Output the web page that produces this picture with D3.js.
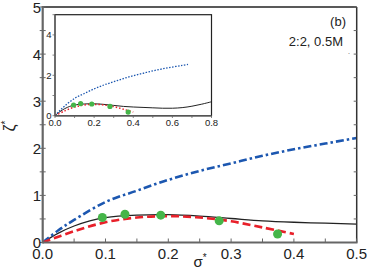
<!DOCTYPE html>
<html><head><meta charset="utf-8">
<script src="https://cdn.jsdelivr.net/npm/d3@7"></script>
<style>body{margin:0;background:#fff}svg{display:block}</style>
</head><body>
<svg id="c" width="367" height="269"></svg>
<script>
// ---- data ----
const sigmaBlack = [0,0.025,0.05,0.075,0.1,0.15,0.2,0.25,0.3,0.35,0.4,0.45,0.5,0.55,0.6,0.65,0.7,0.75,0.8];
const zetaBlack  = [0,0.2,0.35,0.46,0.53,0.58,0.59,0.56,0.51,0.46,0.43,0.41,0.39,0.37,0.37,0.40,0.47,0.57,0.69];
const sigmaBlue  = [0,0.025,0.05,0.1,0.15,0.2,0.25,0.3,0.35,0.4,0.45,0.5,0.55,0.6,0.65,0.68];
const zetaBlue   = [0,0.26,0.48,0.86,1.1,1.33,1.52,1.68,1.84,1.98,2.1,2.22,2.32,2.41,2.49,2.54];
const sigmaRed   = [0,0.05,0.1,0.15,0.2,0.25,0.3,0.35,0.4];
const zetaRed    = [0,0.24,0.43,0.53,0.56,0.53,0.45,0.32,0.18];
const sigmaPts   = [0.095,0.131,0.188,0.281,0.374];
const zetaPts    = [0.53,0.60,0.58,0.46,0.18];
const mainXTicks = [0,0.1,0.2,0.3,0.4,0.5];
const mainYTicks = [0,1,2,3,4,5];
const insetXTicks = [0,0.2,0.4,0.6,0.8];
const insetYTicks = [0,2,4];

const FONT = "Liberation Sans, Arial, sans-serif";
const svg = d3.select("#c");
const zip = (a,b)=>a.map((v,i)=>[v,b[i]]);

// ---- main ----
const x = d3.scaleLinear().domain([0,0.5]).range([42.7,356.7]);
const y = d3.scaleLinear().domain([0,5]).range([242.5,7]);

svg.append("defs").append("clipPath").attr("id","mclip")
  .append("rect").attr("x",42.7).attr("y",7).attr("width",314).attr("height",235.5);

const line = (sx,sy)=>d3.line().x(d=>sx(d[0])).y(d=>sy(d[1])).curve(d3.curveCatmullRom);

const gm = svg.append("g").attr("clip-path","url(#mclip)");
gm.append("path").datum(zip(sigmaBlack,zetaBlack)).attr("d",line(x,y))
  .attr("fill","none").attr("stroke","#222").attr("stroke-width",1.3);
gm.append("path").datum(zip(sigmaBlue,zetaBlue)).attr("d",line(x,y))
  .attr("fill","none").attr("stroke","#1c57b0").attr("stroke-width",2.6)
  .attr("stroke-dasharray","8,3,2.5,3");
gm.append("path").datum(zip(sigmaRed,zetaRed)).attr("d",line(x,y))
  .attr("fill","none").attr("stroke","#e8202a").attr("stroke-width",2.6)
  .attr("stroke-dasharray","8,4");
gm.selectAll("circle.p").data(zip(sigmaPts,zetaPts)).enter().append("circle")
  .attr("cx",d=>x(d[0])).attr("cy",d=>y(d[1])).attr("r",4.5).attr("fill","#45b549");

// frame
svg.append("line").attr("x1",42.7).attr("x2",356.7).attr("y1",7).attr("y2",7).attr("stroke","#222").attr("stroke-width",1.5);
svg.append("line").attr("x1",356.7).attr("x2",356.7).attr("y1",7).attr("y2",242.5).attr("stroke","#333").attr("stroke-width",1.5);

// axes
const xAx = svg.append("g").attr("transform","translate(0,242.5)");
xAx.append("line").attr("x1",42.7).attr("x2",357.5).attr("stroke","#666").attr("stroke-width",2.2);
d3.range(0,0.5001,0.05).forEach(v=>{
  xAx.append("line").attr("x1",x(v)).attr("x2",x(v)).attr("y1",0).attr("y2",-4).attr("stroke","#666").attr("stroke-width",1);
});
xAx.selectAll("text").data(mainXTicks).enter().append("text")
  .attr("x",d=>x(d)).attr("y",16).attr("text-anchor","middle")
  .attr("font-family",FONT).attr("font-size",15).attr("fill","#222").text(d=>d.toFixed(1));

const yAx = svg.append("g").attr("transform","translate(42.7,0)");
yAx.append("line").attr("y1",6).attr("y2",243.5).attr("stroke","#666").attr("stroke-width",2.2);
d3.range(0,5.001,0.5).forEach(v=>{
  yAx.append("line").attr("x1",-3).attr("x2",3).attr("y1",y(v)).attr("y2",y(v)).attr("stroke","#666").attr("stroke-width",1);
  svg.append("line").attr("x1",356.7).attr("x2",353.7).attr("y1",y(v)).attr("y2",y(v)).attr("stroke","#666").attr("stroke-width",1);
});
yAx.selectAll("text").data(mainYTicks).enter().append("text")
  .attr("x",-1.5).attr("y",d=>y(d)+(d===5?1:0)).attr("dy","0.36em").attr("text-anchor","end")
  .attr("font-family",FONT).attr("font-size",15).attr("fill","#222").text(d=>d);

// axis titles
const xt = svg.append("text").attr("x",200).attr("y",267).attr("text-anchor","middle")
  .attr("font-family",FONT).attr("font-size",15).attr("fill","#222");
xt.append("tspan").text("σ");
xt.append("tspan").attr("font-size",10).attr("dy",-6).text("*");
const yt = svg.append("text").attr("transform","translate(15,126) rotate(-90)").attr("text-anchor","middle")
  .attr("font-family",FONT).attr("font-size",16).attr("fill","#222");
yt.append("tspan").text("ζ");
yt.append("tspan").attr("font-size",10).attr("dy",-6).text("*");

// annotations
svg.append("text").attr("x",346).attr("y",26).attr("text-anchor","end")
  .attr("font-family",FONT).attr("font-size",13).attr("fill","#222").text("(b)");
svg.append("text").attr("x",343).attr("y",46).attr("text-anchor","end")
  .attr("font-family",FONT).attr("font-size",13).attr("fill","#222").text("2:2, 0.5M");
svg.append("text").attr("x",348).attr("y",54).attr("text-anchor","start")
  .attr("font-family",FONT).attr("font-size",7).attr("fill","#444").text(".");

// ---- inset ----
const ix = d3.scaleLinear().domain([0,0.8]).range([55,211.5]);
const iy = d3.scaleLinear().domain([0,5]).range([115.7,14.7]);
svg.append("rect").attr("x",55).attr("y",14.7).attr("width",156.5).attr("height",101)
  .attr("fill","#fff").attr("stroke","#222").attr("stroke-width",1.2);
svg.select("defs").append("clipPath").attr("id","iclip")
  .append("rect").attr("x",55).attr("y",14.7).attr("width",156.5).attr("height",101);
const gi = svg.append("g").attr("clip-path","url(#iclip)");
gi.append("path").datum(zip(sigmaBlack,zetaBlack)).attr("d",line(ix,iy))
  .attr("fill","none").attr("stroke","#222").attr("stroke-width",1);
gi.append("path").datum(zip(sigmaBlue,zetaBlue)).attr("d",line(ix,iy))
  .attr("fill","none").attr("stroke","#1c57b0").attr("stroke-width",1.3)
  .attr("stroke-dasharray","1.5,1.5");
gi.append("path").datum(zip(sigmaRed,zetaRed)).attr("d",line(ix,iy))
  .attr("fill","none").attr("stroke","#e8202a").attr("stroke-width",1.5)
  .attr("stroke-dasharray","1.5,2");
gi.selectAll("circle").data(zip(sigmaPts,zetaPts)).enter().append("circle")
  .attr("cx",d=>ix(d[0])).attr("cy",d=>iy(d[1])).attr("r",2.6).attr("fill","#45b549");
// inset axes
svg.append("line").attr("x1",55).attr("x2",55).attr("y1",14.7).attr("y2",116).attr("stroke","#666").attr("stroke-width",1.4);
svg.append("line").attr("x1",55).attr("x2",211.5).attr("y1",115.7).attr("y2",115.7).attr("stroke","#555").attr("stroke-width",1.4);
d3.range(0,5.001,1).forEach(v=>{
  svg.append("line").attr("x1",52.5).attr("x2",55).attr("y1",iy(v)).attr("y2",iy(v)).attr("stroke","#666").attr("stroke-width",0.8);
});
d3.range(0,0.8001,0.1).forEach(v=>{
  svg.append("line").attr("x1",ix(v)).attr("x2",ix(v)).attr("y1",115.7).attr("y2",118).attr("stroke","#666").attr("stroke-width",0.8);
});
svg.selectAll("text.ixl").data(insetXTicks).enter().append("text").attr("class","ixl")
  .attr("x",d=>ix(d)).attr("y",125.5).attr("text-anchor","middle")
  .attr("font-family",FONT).attr("font-size",9.5).attr("fill","#222").text(d=>d.toFixed(1));
svg.selectAll("text.iyl").data(insetYTicks).enter().append("text").attr("class","iyl")
  .attr("x",51.5).attr("y",d=>iy(d)).attr("dy","0.36em").attr("text-anchor","end")
  .attr("font-family",FONT).attr("font-size",9.5).attr("fill","#222").text(d=>d);
</script>
</body></html>
